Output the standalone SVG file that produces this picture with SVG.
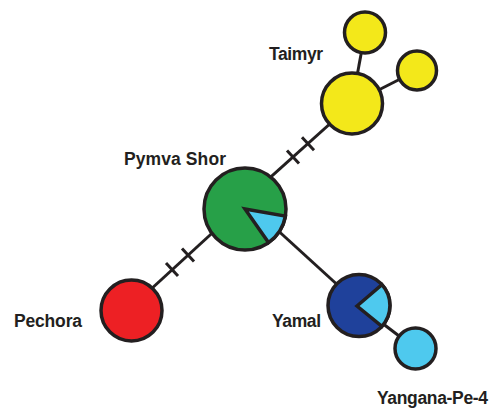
<svg xmlns="http://www.w3.org/2000/svg" width="494" height="408" viewBox="0 0 494 408">
<style>
.edge{stroke:#231f20;stroke-width:3;fill:none}
.tick{stroke:#231f20;stroke-width:3}
.node{stroke:#231f20;stroke-width:3.5}
.lbl{font-family:"Liberation Sans",Arial,sans-serif;font-weight:bold;font-size:17.5px;fill:#231f20}
</style>
<rect width="494" height="408" fill="#ffffff"/>
<g id="connectors">
<line class="edge" x1="131.5" y1="307" x2="245" y2="203"/>
<line class="edge" x1="352" y1="104" x2="260" y2="186.6"/>
<line class="edge" x1="262" y1="216" x2="359" y2="304.5"/>
<line class="edge" x1="359" y1="305.5" x2="415.5" y2="348.5"/>
<line class="edge" x1="352" y1="103.5" x2="365" y2="32.5"/>
<line class="edge" x1="352" y1="103.5" x2="417" y2="70.5"/>
<line class="tick" x1="166" y1="263" x2="178" y2="276"/>
<line class="tick" x1="182" y1="248.5" x2="194" y2="261.5"/>
<line class="tick" x1="287" y1="150.5" x2="299" y2="163.5"/>
<line class="tick" x1="302" y1="137.3" x2="314" y2="150.3"/>
</g>
<g id="pymva-shor">
<circle class="node" cx="245" cy="209" r="41" fill="#27a048"/>
<path class="node" d="M245,209 L285.4,216.1 A41,41 0 0 1 268.5,242.6 Z" fill="#4ec9ee"/>
<text class="lbl" x="124" y="165" textLength="102">Pymva Shor</text>
</g>
<g id="taimyr">
<circle class="node" cx="352" cy="103.5" r="30.5" fill="#f3e81a"/>
<text class="lbl" x="269" y="60" textLength="54">Taimyr</text>
</g>
<g id="taimyr-a">
<circle class="node" cx="365" cy="32.5" r="20.5" fill="#f3e81a"/>
</g>
<g id="taimyr-b">
<circle class="node" cx="417" cy="70.5" r="19.5" fill="#f3e81a"/>
</g>
<g id="pechora">
<circle class="node" cx="131.5" cy="310.5" r="30.5" fill="#ed2024"/>
<text class="lbl" x="14" y="327" textLength="68">Pechora</text>
</g>
<g id="yamal">
<circle class="node" cx="359" cy="305.5" r="31" fill="#1f419b"/>
<path class="node" d="M357,306 L381.9,284.7 A31,31 0 0 1 381.9,326.3 Z" fill="#4ec9ee"/>
<text class="lbl" x="272" y="327" textLength="49">Yamal</text>
</g>
<g id="yangana-pe-4">
<circle class="node" cx="415.5" cy="348.5" r="20.5" fill="#4ec9ee"/>
<text class="lbl" x="377" y="404" textLength="111">Yangana-Pe-4</text>
</g>
</svg>
